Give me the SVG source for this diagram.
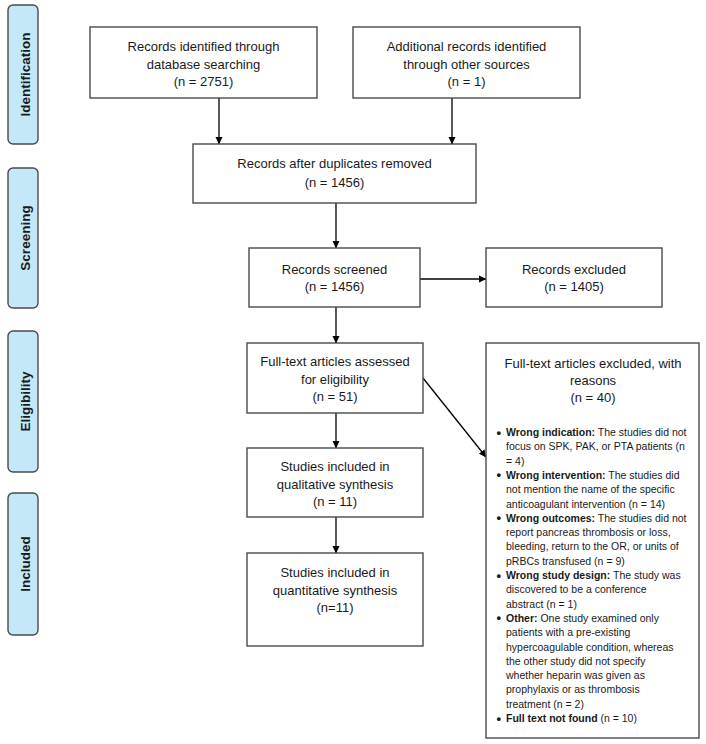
<svg xmlns="http://www.w3.org/2000/svg" width="706" height="744" viewBox="0 0 706 744">
<defs>
<marker id="ah" markerWidth="8" markerHeight="8" refX="7" refY="4" orient="auto" markerUnits="userSpaceOnUse">
<path d="M0,0.5 L7.5,4 L0,7.5 Z" fill="#000"/>
</marker>
</defs>
<style>
.box{fill:#fff;stroke:#4a4a4a;stroke-width:1.4}
.side{fill:#c4e8f8;stroke:#4a4a4a;stroke-width:1.4}
.t{font-family:"Liberation Sans",Arial,sans-serif;font-size:13px;fill:#1a1a1a;text-anchor:middle}
.s{font-family:"Liberation Sans",Arial,sans-serif;font-size:13.5px;font-weight:bold;fill:#1a1a1a;text-anchor:middle}
.b{font-family:"Liberation Sans",Arial,sans-serif;font-size:10.5px;fill:#1a1a1a}
.b tspan.k{font-weight:bold}
.d{font-size:13px;font-weight:bold}
.c{stroke:#000;stroke-width:1.3;fill:none}
</style>
<rect width="706" height="744" fill="#fff"/>
<g id="side-identification"><rect class="side" x="8" y="5" width="30" height="139" rx="5"/><text class="s" transform="translate(29.5,74.5) rotate(-90)">Identification</text></g>
<g id="side-screening"><rect class="side" x="8" y="168" width="30" height="140" rx="5"/><text class="s" transform="translate(29.5,238) rotate(-90)">Screening</text></g>
<g id="side-eligibility"><rect class="side" x="8" y="331" width="30" height="141" rx="5"/><text class="s" transform="translate(29.5,401.5) rotate(-90)">Eligibility</text></g>
<g id="side-included"><rect class="side" x="8" y="493" width="30" height="142" rx="5"/><text class="s" transform="translate(29.5,564) rotate(-90)">Included</text></g>

<g id="connectors">
<line class="c" x1="219" y1="98" x2="219" y2="144" marker-end="url(#ah)"/>
<line class="c" x1="452" y1="98" x2="452" y2="144" marker-end="url(#ah)"/>
<line class="c" x1="336" y1="203" x2="336" y2="248" marker-end="url(#ah)"/>
<line class="c" x1="420" y1="279" x2="486" y2="279" marker-end="url(#ah)"/>
<line class="c" x1="336" y1="307" x2="336" y2="343" marker-end="url(#ah)"/>
<line class="c" x1="336" y1="413" x2="336" y2="448" marker-end="url(#ah)"/>
<line class="c" x1="336" y1="517" x2="336" y2="553" marker-end="url(#ah)"/>
<line class="c" x1="423" y1="378" x2="486" y2="457" marker-end="url(#ah)"/>
</g>

<g id="n1"><rect class="box" x="90" y="27" width="227" height="71"/>
<text class="t" x="203.5" y="51">Records identified through</text>
<text class="t" x="203.5" y="68.5">database searching</text>
<text class="t" x="203.5" y="86">(n = 2751)</text></g>

<g id="n2"><rect class="box" x="353" y="27" width="227" height="71"/>
<text class="t" x="466.5" y="51">Additional records identified</text>
<text class="t" x="466.5" y="68.5">through other sources</text>
<text class="t" x="466.5" y="86">(n = 1)</text></g>

<g id="n3"><rect class="box" x="193" y="144" width="283" height="59"/>
<text class="t" x="334.5" y="168">Records after duplicates removed</text>
<text class="t" x="334.5" y="186.5">(n = 1456)</text></g>

<g id="n4"><rect class="box" x="249" y="248" width="171" height="59"/>
<text class="t" x="334.5" y="273.5">Records screened</text>
<text class="t" x="334.5" y="291">(n = 1456)</text></g>

<g id="n5"><rect class="box" x="486" y="248" width="176" height="59"/>
<text class="t" x="574" y="273.5">Records excluded</text>
<text class="t" x="574" y="291">(n = 1405)</text></g>

<g id="n6"><rect class="box" x="247" y="343" width="176" height="70"/>
<text class="t" x="335" y="366">Full-text articles assessed</text>
<text class="t" x="335" y="384">for eligibility</text>
<text class="t" x="335" y="401">(n = 51)</text></g>

<g id="n7"><rect class="box" x="247" y="448" width="176" height="69"/>
<text class="t" x="335" y="471">Studies included in</text>
<text class="t" x="335" y="488.5">qualitative synthesis</text>
<text class="t" x="335" y="506">(n = 11)</text></g>

<g id="n8"><rect class="box" x="247" y="553" width="176" height="93"/>
<text class="t" x="335" y="577">Studies included in</text>
<text class="t" x="335" y="594.5">quantitative synthesis</text>
<text class="t" x="335" y="612">(n=11)</text></g>

<g id="n9"><rect class="box" x="486" y="343" width="213" height="395"/>
<text class="t" x="593" y="367.5">Full-text articles excluded, with</text>
<text class="t" x="593" y="384.5">reasons</text>
<text class="t" x="593" y="401.5">(n = 40)</text>
<g class="b">
<text class="d" x="496.5" y="436.5">•</text><text x="506" y="436"><tspan class="k">Wrong indication:</tspan> The studies did not</text>
<text x="506" y="450.3">focus on SPK, PAK, or PTA patients (n</text>
<text x="506" y="464.6">= 4)</text>
<text class="d" x="496.5" y="479.4">•</text><text x="506" y="478.9"><tspan class="k">Wrong intervention:</tspan> The studies did</text>
<text x="506" y="493.2">not mention the name of the specific</text>
<text x="506" y="507.5">anticoagulant intervention (n = 14)</text>
<text class="d" x="496.5" y="522.3">•</text><text x="506" y="521.8"><tspan class="k">Wrong outcomes:</tspan> The studies did not</text>
<text x="506" y="536.1">report pancreas thrombosis or loss,</text>
<text x="506" y="550.4">bleeding, return to the OR, or units of</text>
<text x="506" y="564.7">pRBCs transfused (n = 9)</text>
<text class="d" x="496.5" y="579.5">•</text><text x="506" y="579"><tspan class="k">Wrong study design:</tspan> The study was</text>
<text x="506" y="593.3">discovered to be a conference</text>
<text x="506" y="607.6">abstract (n = 1)</text>
<text class="d" x="496.5" y="622.4">•</text><text x="506" y="621.9"><tspan class="k">Other:</tspan> One study examined only</text>
<text x="506" y="636.2">patients with a pre-existing</text>
<text x="506" y="650.5">hypercoagulable condition, whereas</text>
<text x="506" y="664.8">the other study did not specify</text>
<text x="506" y="679.1">whether heparin was given as</text>
<text x="506" y="693.4">prophylaxis or as thrombosis</text>
<text x="506" y="707.7">treatment (n = 2)</text>
<text class="d" x="496.5" y="722.5">•</text><text x="506" y="722"><tspan class="k">Full text not found</tspan> (n = 10)</text>
</g>
</g>
</svg>
